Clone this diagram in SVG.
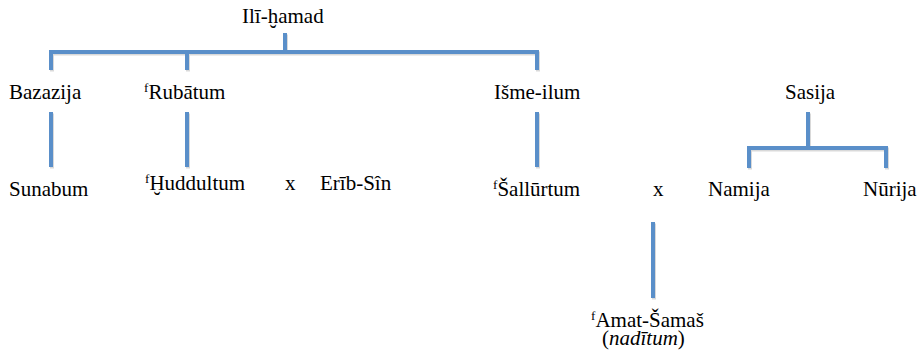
<svg xmlns="http://www.w3.org/2000/svg" width="923" height="358" viewBox="0 0 923 358">
<defs>
<path id="c1" d="M285 33V52M51 70V52H537V70M187 52V70M51 112V167M187 112V167M537 112V167M808 112V148M749 168V148H886V168M653 222V298"/>
</defs>
<rect width="923" height="358" fill="#fff"/>
<g id="connectors" fill="none" stroke-width="4">
<use href="#c1" x="1" y="1.5" stroke="#000" stroke-opacity="0.15"/>
<use href="#c1" stroke="#5a8fc9"/>
</g>
<g id="ili-hamad"><text font-family="Liberation Serif" font-size="24" transform="translate(242 23) scale(0.875)">Ilī-ḫamad</text></g>
<g id="bazazija"><text font-family="Liberation Serif" font-size="24" transform="translate(9 99) scale(0.875)">Bazazija</text></g>
<g id="rubatum"><text font-family="Liberation Serif" font-size="24" transform="translate(144 99) scale(0.875)"><tspan font-size="15" dy="-8">f</tspan><tspan dy="8">Rubātum</tspan></text></g>
<g id="isme-ilum"><text font-family="Liberation Serif" font-size="24" transform="translate(494 99) scale(0.875)">Išme-ilum</text></g>
<g id="sasija"><text font-family="Liberation Serif" font-size="24" transform="translate(785 99) scale(0.875)">Sasija</text></g>
<g id="sunabum"><text font-family="Liberation Serif" font-size="24" transform="translate(9 196) scale(0.875)">Sunabum</text></g>
<g id="huddultum"><text font-family="Liberation Serif" font-size="24" transform="translate(145 190) scale(0.875)"><tspan font-size="15" dy="-8">f</tspan><tspan dy="8">Ḫuddultum</tspan></text></g>
<g id="x1"><text font-family="Liberation Serif" font-size="24" transform="translate(285 190) scale(0.875)">x</text></g>
<g id="erib-sin"><text font-family="Liberation Serif" font-size="24" transform="translate(320 190) scale(0.875)">Erīb-Sîn</text></g>
<g id="sallurtum"><text font-family="Liberation Serif" font-size="24" transform="translate(493 196) scale(0.875)"><tspan font-size="15" dy="-8">f</tspan><tspan dy="8">Šallūrtum</tspan></text></g>
<g id="x2"><text font-family="Liberation Serif" font-size="24" transform="translate(653 196) scale(0.875)">x</text></g>
<g id="namija"><text font-family="Liberation Serif" font-size="24" transform="translate(708 196) scale(0.875)">Namija</text></g>
<g id="nurija"><text font-family="Liberation Serif" font-size="24" transform="translate(863 196) scale(0.875)">Nūrija</text></g>
<g id="amat-samas"><text font-family="Liberation Serif" font-size="24" transform="translate(591 327) scale(0.875)"><tspan font-size="15" dy="-8">f</tspan><tspan dy="8">Amat-Šamaš</tspan></text><text font-family="Liberation Serif" font-size="24" transform="translate(602 345) scale(0.875)">(<tspan font-style="italic">nadītum</tspan>)</text></g>
</svg>
